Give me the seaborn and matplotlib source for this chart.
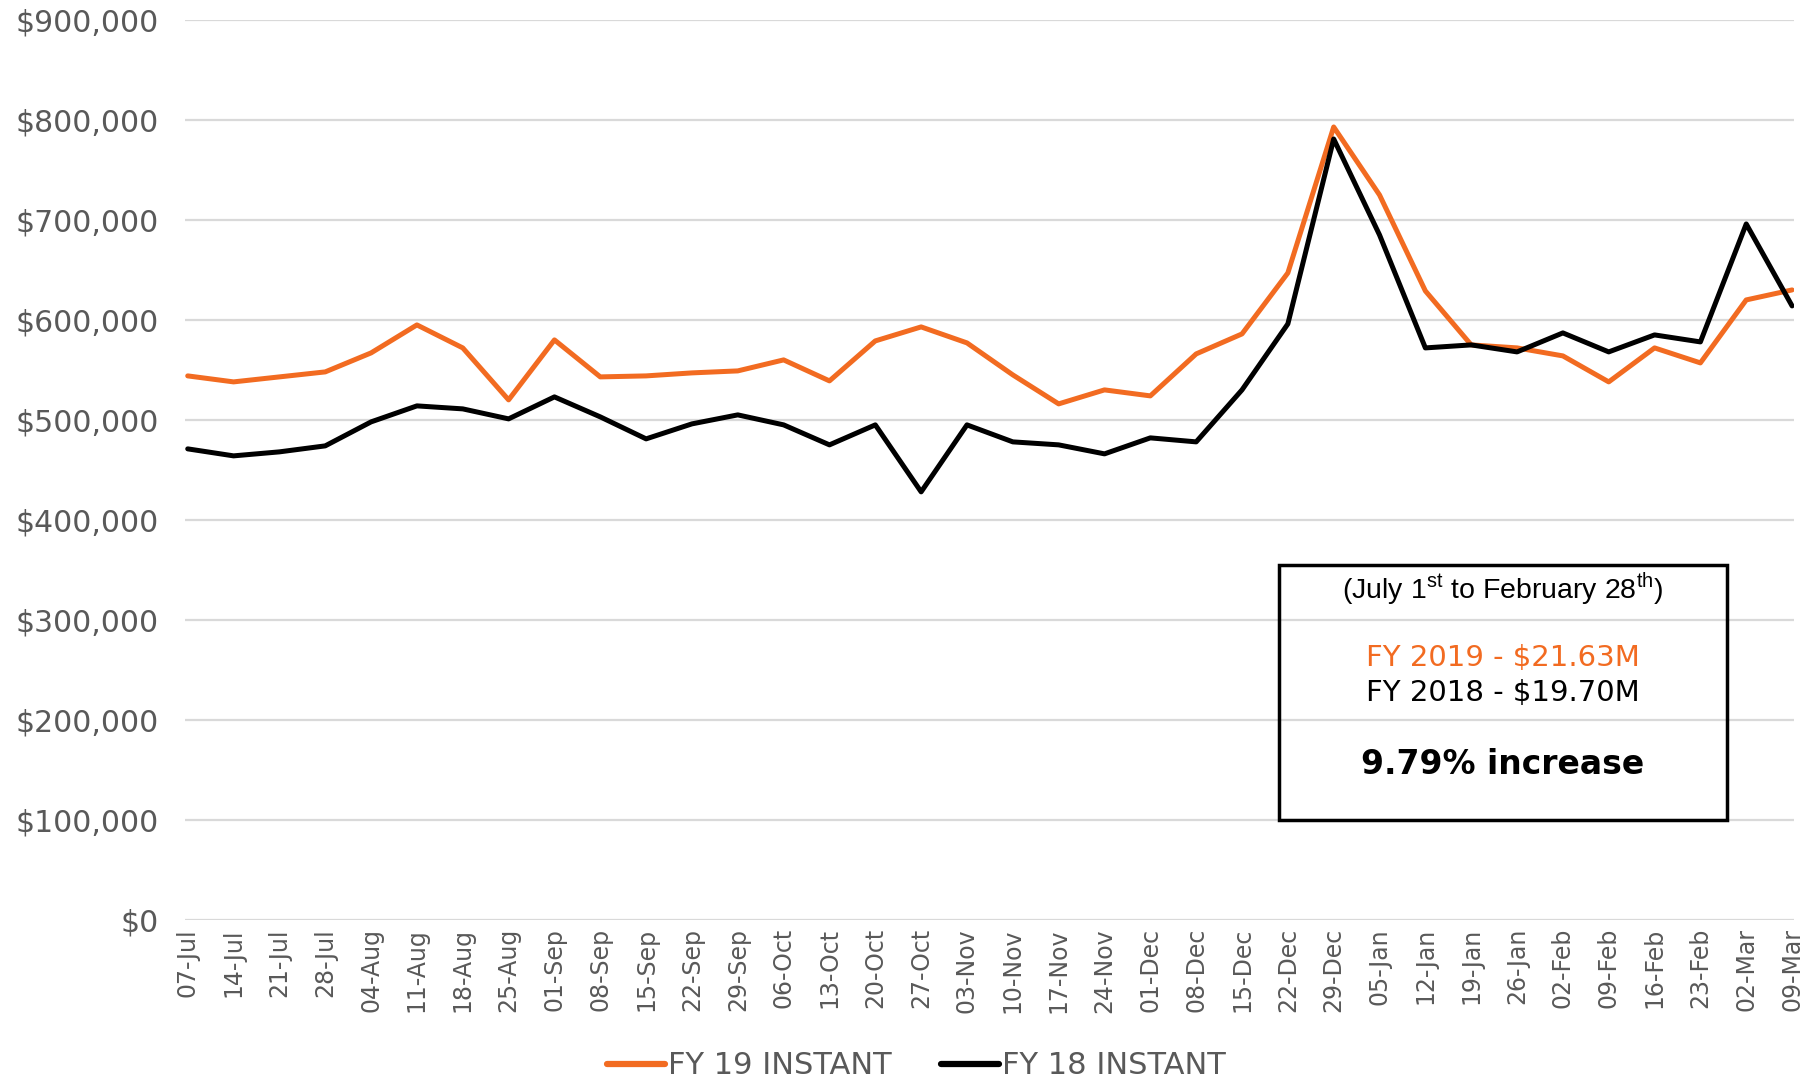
import matplotlib
matplotlib.use("Agg")
import matplotlib.pyplot as plt
import seaborn as sns
import pandas as pd
from matplotlib.patches import Rectangle
from matplotlib.lines import Line2D

weeks = ["07-Jul", "14-Jul", "21-Jul", "28-Jul", "04-Aug", "11-Aug", "18-Aug", "25-Aug",
         "01-Sep", "08-Sep", "15-Sep", "22-Sep", "29-Sep", "06-Oct", "13-Oct", "20-Oct",
         "27-Oct", "03-Nov", "10-Nov", "17-Nov", "24-Nov", "01-Dec", "08-Dec", "15-Dec",
         "22-Dec", "29-Dec", "05-Jan", "12-Jan", "19-Jan", "26-Jan", "02-Feb", "09-Feb",
         "16-Feb", "23-Feb", "02-Mar", "09-Mar"]

fy19 = [544000, 538000, 543000, 548000, 567000, 595000, 572000, 520000,
        580000, 543000, 544000, 547000, 549000, 560000, 539000, 579000,
        593000, 577000, 545000, 516000, 530000, 524000, 566000, 586000,
        647000, 793000, 725000, 629000, 575000, 572000, 564000, 538000,
        572000, 557000, 620000, 630000]

fy18 = [471000, 464000, 468000, 474000, 498000, 514000, 511000, 501000,
        523000, 503000, 481000, 496000, 505000, 495000, 475000, 495000,
        428000, 495000, 478000, 475000, 466000, 482000, 478000, 530000,
        596000, 781000, 685000, 572000, 575000, 568000, 587000, 568000,
        585000, 578000, 696000, 614000]

series_names = ["FY 19 INSTANT", "FY 18 INSTANT"]
series_colors = ["#F26B21", "#000000"]

df = pd.concat([
    pd.DataFrame({"week": weeks, "value": fy19, "series": series_names[0]}),
    pd.DataFrame({"week": weeks, "value": fy18, "series": series_names[1]}),
], ignore_index=True)

sns.set_style("white")
plt.rcParams["font.family"] = ["DejaVu Sans"]
plt.rcParams["mathtext.fontset"] = "custom"
plt.rcParams["mathtext.rm"] = "Liberation Sans"

fig = plt.figure(figsize=(18.18, 10.82), dpi=100)
ax = fig.add_axes([0.102, 0.150, 0.885, 0.8315])

sns.lineplot(data=df, x="week", y="value", hue="series", sort=False,
             palette=dict(zip(series_names, series_colors)), linewidth=3.6,
             ax=ax, legend=False)

ax.set_ylim(0, 900000)
ax.set_xlim(-0.05, len(weeks) - 1 + 0.05)
ax.set_yticks(range(0, 900001, 100000))
ax.set_yticklabels([f"${v:,.0f}" for v in range(0, 900001, 100000)])
ax.yaxis.grid(True, color="#D9D9D9", linewidth=1.6)
ax.xaxis.grid(False)
ax.set_axisbelow(True)
for s in ax.spines.values():
    s.set_visible(False)
ax.tick_params(axis="y", labelsize=21.5, colors="#595959", length=0, pad=19)
ax.tick_params(axis="x", labelsize=17, colors="#595959", length=0, pad=6, rotation=90)
ax.set_xlabel("")
ax.set_ylabel("")

# legend
handles = [Line2D([0], [0], color=c, lw=4.5) for c in series_colors]
leg = fig.legend(handles, series_names, loc="center", bbox_to_anchor=(0.504, 0.015),
                 ncol=2, frameon=False, handlelength=1.9, handletextpad=0.1,
                 columnspacing=1.6, prop={"family": ["Liberation Sans Narrow", "DejaVu Sans"], "size": 22})
for t in leg.get_texts():
    t.set_color("#595959")

# annotation box
fig.patches.append(Rectangle((0.7035, 0.242), 0.2465, 0.236, transform=fig.transFigure,
                             fill=False, edgecolor="black", linewidth=2.5, zorder=5))
cx = 0.8267
fig.text(cx, 0.4550, r"(July 1$^{\mathrm{st}}$ to February 28$^{\mathrm{th}}$)", ha="center", va="center",
         fontsize=20.5, family=["Liberation Sans", "DejaVu Sans"], color="black")
fig.text(cx, 0.3915, r"FY 2019 - \$21.63M", ha="center", va="center", fontsize=21, color="#F26B21")
fig.text(cx, 0.3592, r"FY 2018 - \$19.70M", ha="center", va="center", fontsize=21, color="black")
fig.text(cx, 0.2936, "9.79% increase", ha="center", va="center", fontsize=23.8,
         fontweight="bold", color="black")

fig.savefig("out.png", dpi=100)
